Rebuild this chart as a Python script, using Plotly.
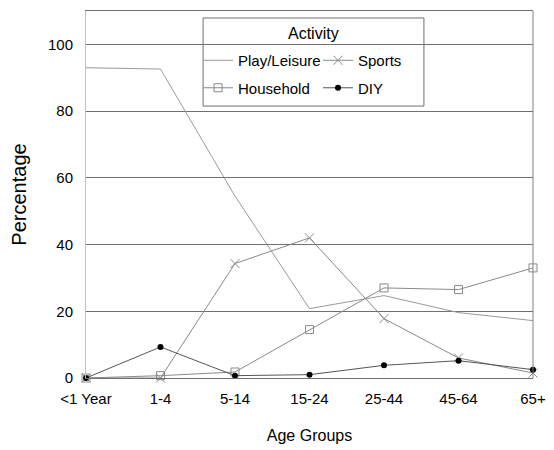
import plotly.graph_objects as go

age_groups = ["<1 Year", "1-4", "5-14", "15-24", "25-44", "45-64", "65+"]
play_leisure = [93.0, 92.6, 54.5, 20.8, 24.7, 19.6, 17.2]
sports = [0.0, 0.0, 34.3, 42.0, 17.8, 6.0, 1.5]
household = [0.0, 0.7, 1.8, 14.5, 27.0, 26.5, 33.0]
diy = [0.0, 9.3, 0.7, 1.0, 3.8, 5.2, 2.5]
y_ticks = [0, 20, 40, 60, 80, 100]

FONT = "Liberation Sans, Arial, Helvetica, sans-serif"

fig = go.Figure()
fig.add_trace(go.Scatter(x=age_groups, y=play_leisure, name="Play/Leisure", mode="lines",
                         line=dict(color="#9a9a9a", width=1), legend="legend", legendgroup="a",
                         cliponaxis=False))
fig.add_trace(go.Scatter(x=age_groups, y=household, name="Household", mode="lines+markers",
                         line=dict(color="#8a8a8a", width=1),
                         marker=dict(symbol="square-open", size=8, color="#8a8a8a", line=dict(width=1)),
                         legend="legend", legendgroup="b", cliponaxis=False))
fig.add_trace(go.Scatter(x=age_groups, y=sports, name="Sports", mode="lines+markers",
                         line=dict(color="#8a8a8a", width=1),
                         marker=dict(symbol="x-thin-open", size=9, color="#8a8a8a",
                                     line=dict(width=1, color="#8a8a8a")),
                         legend="legend2", legendgroup="c", cliponaxis=False))
fig.add_trace(go.Scatter(x=age_groups, y=diy, name="DIY", mode="lines+markers",
                         line=dict(color="#555555", width=1),
                         marker=dict(symbol="circle", size=6, color="#000000"),
                         legend="legend2", legendgroup="d", cliponaxis=False))

box_x0, box_x1 = 0.262, 0.756
box_y0, box_y1 = 0.741, 0.981

# the page body adds an 8px offset, so the figure is 8px smaller and margins compensate
fig.update_layout(
    width=546, height=442,
    margin=dict(l=78, r=21, t=3, b=72),
    plot_bgcolor="white", paper_bgcolor="white",
    font=dict(family=FONT, size=15, color="black"),
    showlegend=True,
    legend=dict(x=0.2506, y=0.910, xanchor="left", yanchor="top", bgcolor="rgba(0,0,0,0)",
                borderwidth=0, font=dict(family=FONT, size=15), tracegroupgap=5,
                traceorder="grouped", itemwidth=30),
    legend2=dict(x=0.519, y=0.910, xanchor="left", yanchor="top", bgcolor="rgba(0,0,0,0)",
                 borderwidth=0, font=dict(family=FONT, size=15), tracegroupgap=5,
                 traceorder="grouped", itemwidth=30),
    xaxis=dict(type="category", range=[0, 6], showgrid=False, showline=True, linecolor="#707070",
               linewidth=1, mirror=True, ticks="", ticklabelstandoff=7, automargin=False,
               tickfont=dict(family=FONT, size=15),
               title=dict(text="Age Groups", font=dict(family=FONT, size=16), standoff=23)),
    yaxis=dict(range=[0, 110], tickvals=y_ticks, showgrid=True, gridcolor="#707070", gridwidth=1,
               zeroline=False, showline=True, linecolor="#c0c0c0", linewidth=1, ticks="",
               ticklabelstandoff=9, automargin=False, tickfont=dict(family=FONT, size=15),
               title=dict(text="Percentage", font=dict(family=FONT, size=20), standoff=15)),
    shapes=[
        dict(type="line", xref="paper", yref="paper", x0=1, x1=1, y0=0, y1=1,
             line=dict(color="#808080", width=1)),
        dict(type="rect", xref="paper", yref="paper", x0=box_x0, x1=box_x1, y0=box_y0, y1=box_y1,
             line=dict(color="#707070", width=1), fillcolor="white", layer="between"),
    ],
    annotations=[
        dict(text="Activity", xref="paper", yref="paper", x=(box_x0 + box_x1) / 2, y=0.940,
             xanchor="center", yanchor="middle", showarrow=False,
             font=dict(family=FONT, size=16)),
    ],
)

fig.write_html("out.html")
